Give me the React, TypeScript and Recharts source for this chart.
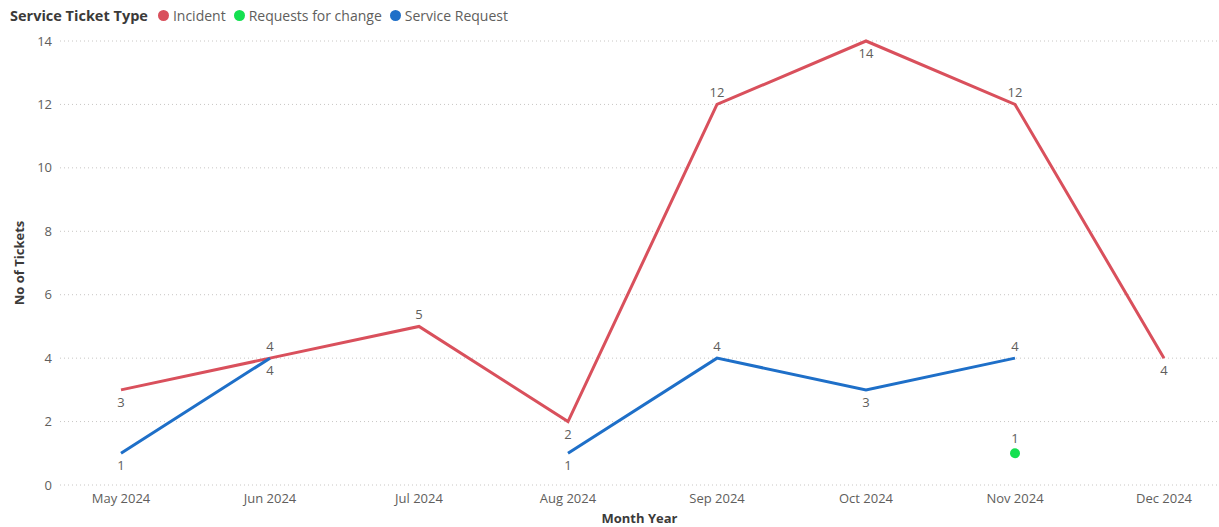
import React from "react";
import {
  LineChart,
  Line,
  XAxis,
  YAxis,
  CartesianGrid,
  LabelList,
} from "recharts";

const months = [
  "May 2024",
  "Jun 2024",
  "Jul 2024",
  "Aug 2024",
  "Sep 2024",
  "Oct 2024",
  "Nov 2024",
  "Dec 2024",
];

const incident = [3, 4, 5, 2, 12, 14, 12, 4];
const requestsForChange = [null, null, null, null, null, null, 1, null];
const serviceRequest = [1, 4, null, 1, 4, 3, 4, null];

const yTicks = [0, 2, 4, 6, 8, 10, 12, 14];

// where each data label sits relative to its point
const incidentLabelPos = ["below", "above", "above", "below", "above", "below", "above", "below"];
const serviceLabelPos = ["below", "below", "below", "below", "above", "below", "above", "below"];
const rfcLabelPos = ["above", "above", "above", "above", "above", "above", "above", "above"];

const data = months.map((month, i) => ({
  month,
  incident: incident[i],
  rfc: requestsForChange[i],
  service: serviceRequest[i],
}));

const COLORS = {
  incident: "#D9505C",
  rfc: "#14E050",
  service: "#1E6FC8",
};

const FONT = "'Open Sans', 'Noto Sans', sans-serif";
const TEXT_GRAY = "#605E5C";

const makeLabel = (positions: string[], gap: number) => (props: any) => {
  const { x, y, value, index } = props;
  if (value === null || value === undefined) return null;
  const below = positions[index] === "below";
  return (
    <text
      x={x}
      y={below ? y + gap + 10 : y - gap}
      textAnchor="middle"
      fill={TEXT_GRAY}
      fontSize={13}
      fontFamily={FONT}
    >
      {value}
    </text>
  );
};

const legendItems = [
  { name: "Incident", color: COLORS.incident },
  { name: "Requests for change", color: COLORS.rfc },
  { name: "Service Request", color: COLORS.service },
];

function LegendBar() {
  return (
    <div
      style={{
        position: "absolute",
        left: 10,
        top: 6,
        display: "flex",
        alignItems: "center",
        fontFamily: FONT,
        fontSize: 14,
        color: TEXT_GRAY,
        whiteSpace: "nowrap",
        zIndex: 1,
      }}
    >
      <span style={{ fontWeight: 700, color: "#3B3A39", marginRight: 10, fontSize: 14.5 }}>
        Service Ticket Type
      </span>
      {legendItems.map((item) => (
        <span
          key={item.name}
          style={{ display: "flex", alignItems: "center", marginRight: 8 }}
        >
          <span
            style={{
              width: 11,
              height: 11,
              borderRadius: "50%",
              background: item.color,
              display: "inline-block",
              marginRight: 4,
            }}
          />
          {item.name}
        </span>
      ))}
    </div>
  );
}

export default function App() {
  return (
    <div style={{ position: "absolute", left: 0, top: 0, width: 1219, height: 527, background: "#fff" }}>
      <LegendBar />
      <LineChart
        width={1219}
        height={527}
        data={data}
        margin={{ top: 41, right: 0, bottom: 0, left: 0 }}
      >
        <CartesianGrid
          vertical={false}
          stroke="#C8C6C4"
          strokeDasharray="1 3"
        />
        <XAxis
          dataKey="month"
          axisLine={false}
          tickLine={false}
          padding={{ left: 61, right: 55 }}
          height={42}
          tick={{ fill: TEXT_GRAY, fontSize: 13, fontFamily: FONT }}
          tickMargin={3}
          label={{
            value: "Month Year",
            position: "insideBottom",
            offset: 4,
            fill: "#3B3A39",
            fontSize: 13,
            fontWeight: 700,
            fontFamily: FONT,
          }}
        />
        <YAxis
          domain={[0, 14]}
          ticks={yTicks}
          width={60}
          axisLine={false}
          tickLine={false}
          tick={{ fill: TEXT_GRAY, fontSize: 13, fontFamily: FONT }}
          label={{
            content: () => (
              <text
                x={24}
                y={263}
                transform="rotate(-90 24 263)"
                textAnchor="middle"
                fill="#3B3A39"
                fontSize={13}
                fontWeight={700}
                fontFamily={FONT}
              >
                No of Tickets
              </text>
            ),
          }}
        />
        <Line
          dataKey="incident"
          name="Incident"
          stroke={COLORS.incident}
          strokeWidth={3}
          dot={false}
          activeDot={false}
          isAnimationActive={false}
        >
          <LabelList dataKey="incident" content={makeLabel(incidentLabelPos, 7)} />
        </Line>
        <Line
          dataKey="rfc"
          name="Requests for change"
          stroke={COLORS.rfc}
          strokeWidth={3}
          dot={{ r: 5, fill: COLORS.rfc, stroke: "none" }}
          activeDot={false}
          isAnimationActive={false}
        >
          <LabelList dataKey="rfc" content={makeLabel(rfcLabelPos, 10)} />
        </Line>
        <Line
          dataKey="service"
          name="Service Request"
          stroke={COLORS.service}
          strokeWidth={3}
          dot={false}
          activeDot={false}
          isAnimationActive={false}
        >
          <LabelList dataKey="service" content={makeLabel(serviceLabelPos, 7)} />
        </Line>
      </LineChart>
    </div>
  );
}
